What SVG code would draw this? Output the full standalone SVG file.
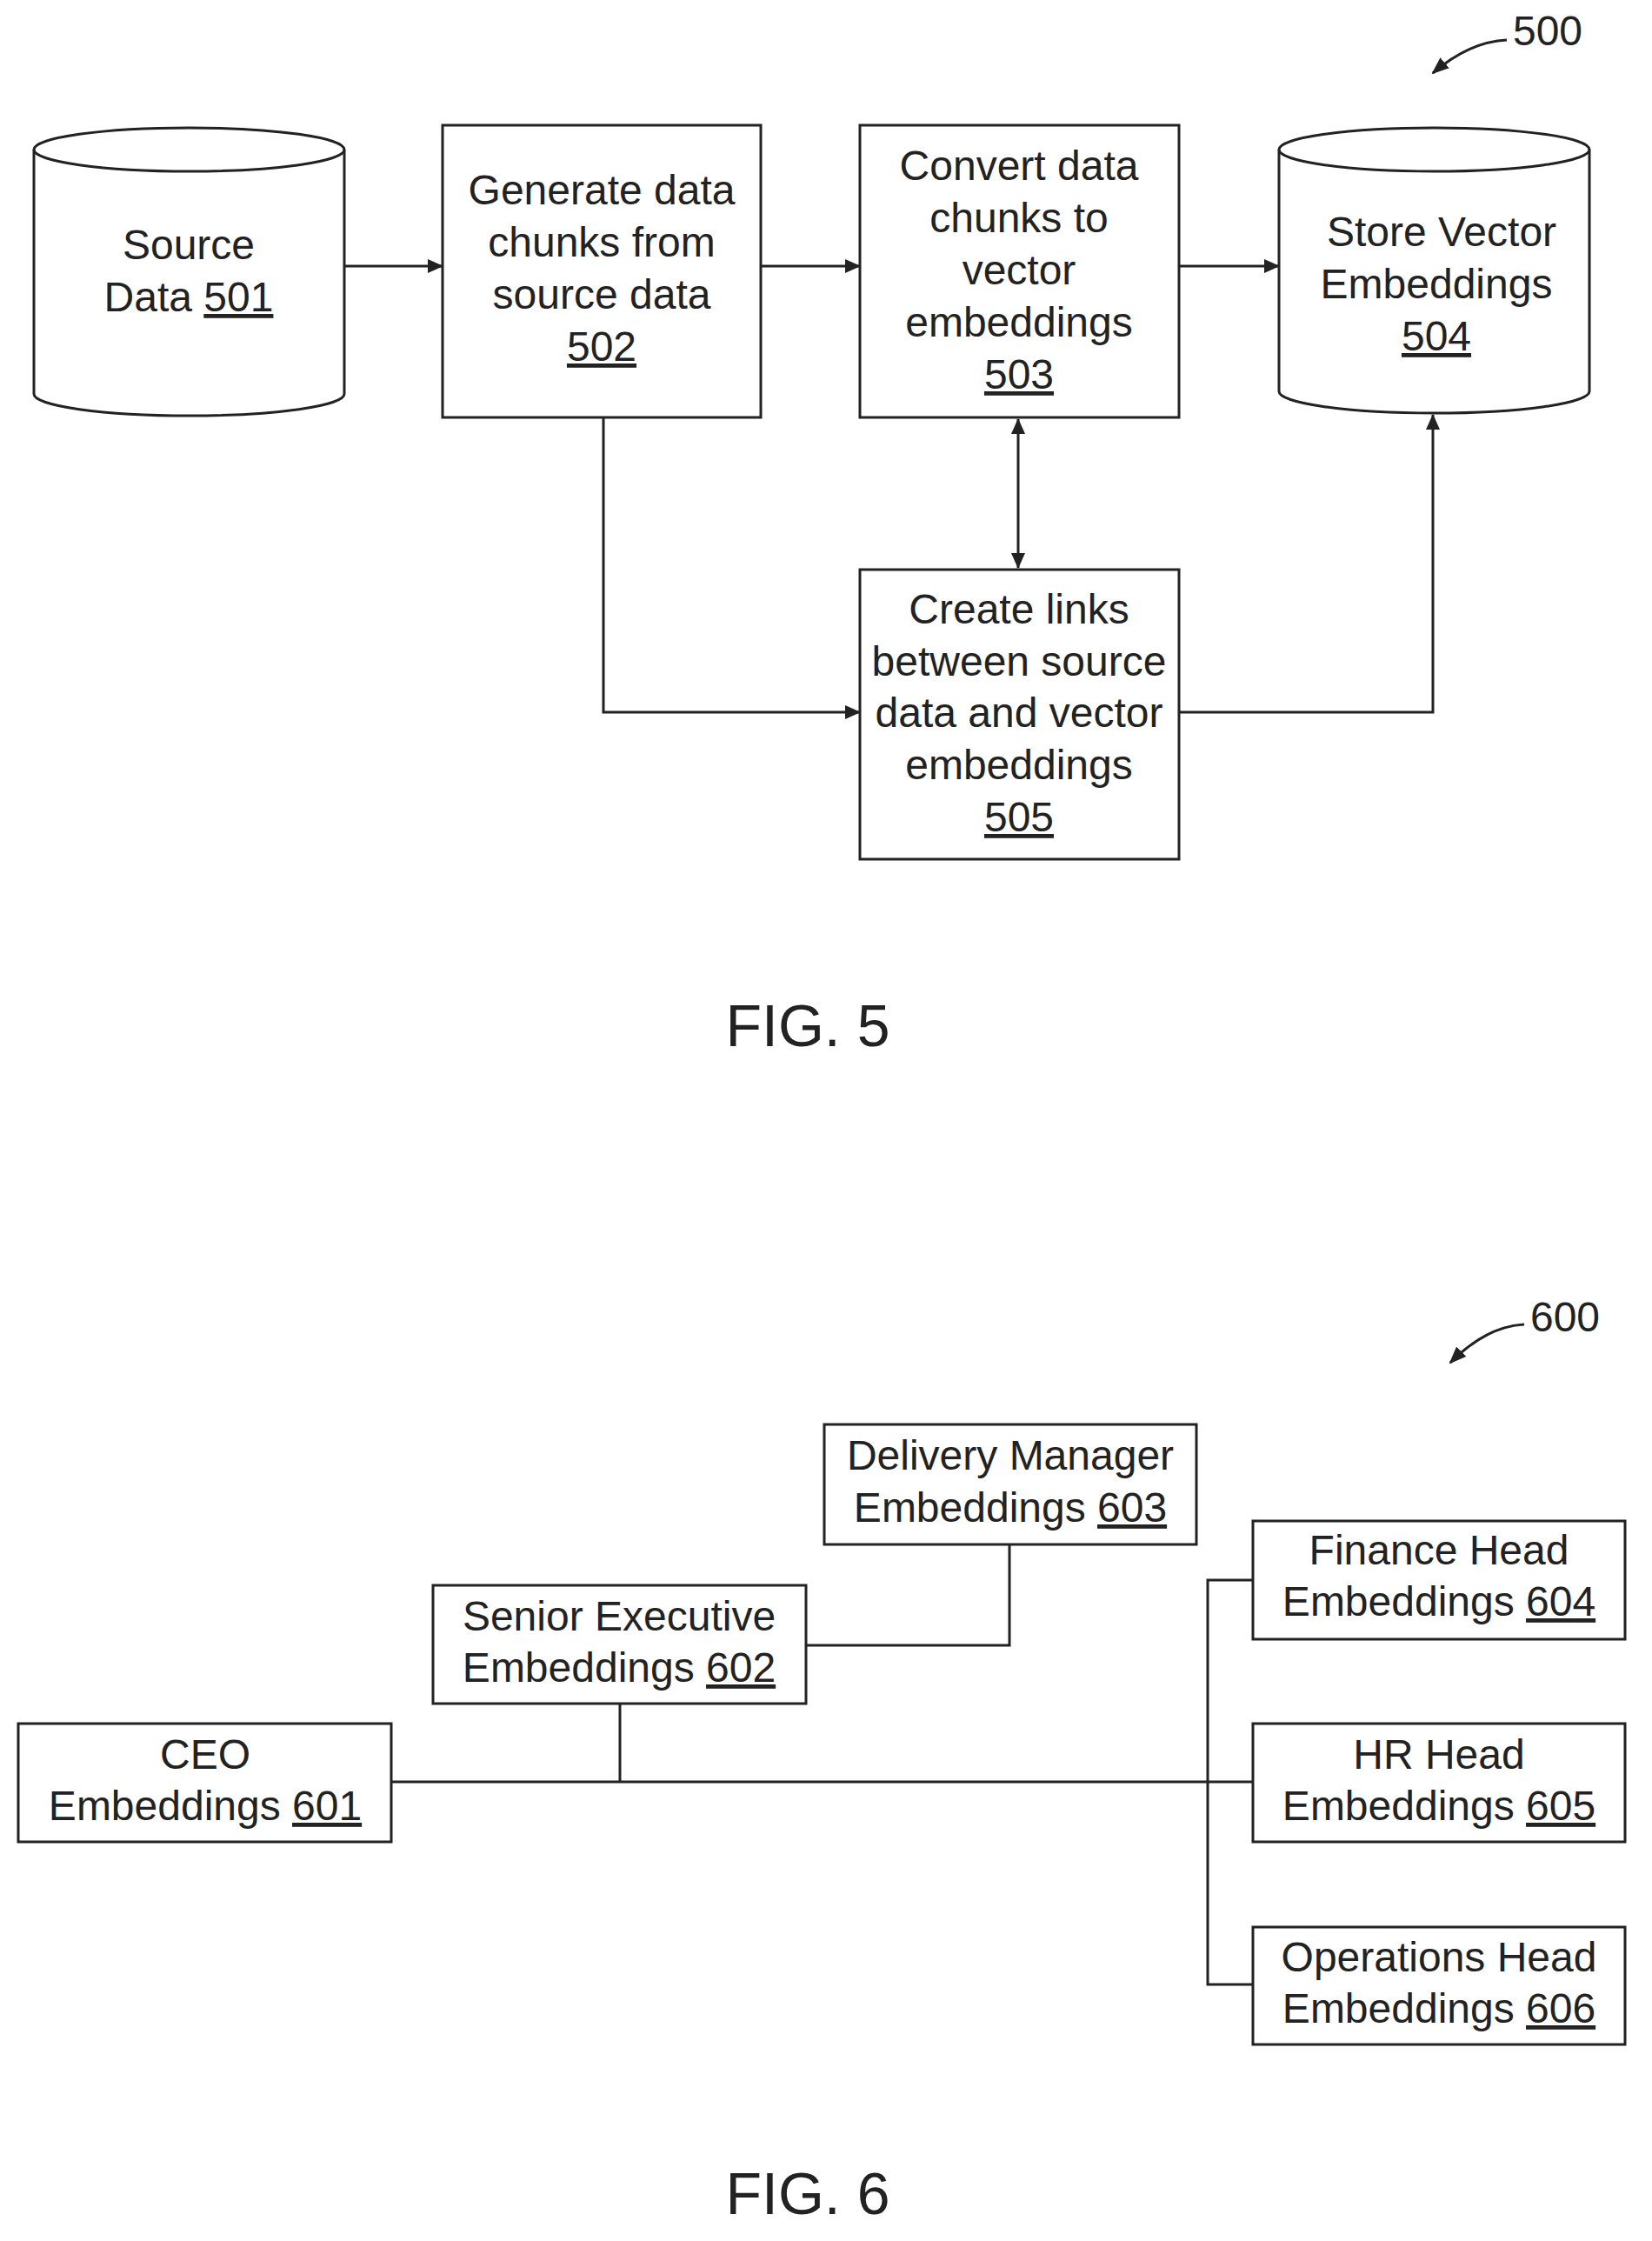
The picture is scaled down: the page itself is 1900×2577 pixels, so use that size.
<svg xmlns="http://www.w3.org/2000/svg" width="1900" height="2577" viewBox="0 0 1900 2577">
<style>
.s{fill:#fff;stroke:#222;stroke-width:3}
.c{fill:none;stroke:#222;stroke-width:3}
text{font-family:"Liberation Sans",Arial,sans-serif;font-size:48px;fill:#222;text-anchor:middle}
.u{text-decoration:underline}
.fig{font-size:68px}
</style>
<defs>
<marker id="a" markerWidth="18" markerHeight="16" refX="17" refY="8" orient="auto-start-reverse" markerUnits="userSpaceOnUse" viewBox="0 0 18 16"><path d="M0,0 L18,8 L0,16 z" fill="#222"/></marker>
<marker id="b" markerWidth="20" markerHeight="16" refX="18" refY="8" orient="auto-start-reverse" markerUnits="userSpaceOnUse" viewBox="0 0 20 16"><path d="M0,0 L20,8 L0,16 z" fill="#222"/></marker>
</defs>
<g id="n501"><path class="s" d="M39,172 A178,25 0 0 1 396,172 L396,453 A178,25 0 0 1 39,453 Z"/><path class="c" d="M39,172 A178,25 0 0 0 396,172"/>
<text x="217" y="298">Source</text><text x="217" y="358">Data <tspan class="u">501</tspan></text></g>
<g id="n502"><rect class="s" x="509" y="144" width="366" height="336"/>
<text x="692" y="235">Generate data</text><text x="692" y="295">chunks from</text><text x="692" y="355">source data</text><text x="692" y="415" class="u">502</text></g>
<g id="n503"><rect class="s" x="989" y="144" width="367" height="336"/>
<text x="1172" y="207">Convert data</text><text x="1172" y="267">chunks to</text><text x="1172" y="327">vector</text><text x="1172" y="387">embeddings</text><text x="1172" y="447" class="u">503</text></g>
<g id="n504"><path class="s" d="M1471,172 A178,25 0 0 1 1828,172 L1828,450 A178,25 0 0 1 1471,450 Z"/><path class="c" d="M1471,172 A178,25 0 0 0 1828,172"/>
<text x="1658" y="283">Store Vector</text><text x="1652" y="343">Embeddings</text><text x="1652" y="403" class="u">504</text></g>
<g id="n505"><rect class="s" x="989" y="655" width="367" height="333"/>
<text x="1172" y="717">Create links</text><text x="1172" y="777">between source</text><text x="1172" y="836">data and vector</text><text x="1172" y="896">embeddings</text><text x="1172" y="956" class="u">505</text></g>
<g id="n601"><rect class="s" x="21" y="1982" width="429" height="136"/><text x="236" y="2034">CEO</text><text x="236" y="2093">Embeddings <tspan class="u">601</tspan></text></g>
<g id="n602"><rect class="s" x="498" y="1823" width="429" height="136"/><text x="712" y="1875">Senior Executive</text><text x="712" y="1934">Embeddings <tspan class="u">602</tspan></text></g>
<g id="n603"><rect class="s" x="948" y="1638" width="428" height="138"/><text x="1162" y="1690">Delivery Manager</text><text x="1162" y="1750">Embeddings <tspan class="u">603</tspan></text></g>
<g id="n604"><rect class="s" x="1441" y="1749" width="428" height="136"/><text x="1655" y="1799">Finance Head</text><text x="1655" y="1858">Embeddings <tspan class="u">604</tspan></text></g>
<g id="n605"><rect class="s" x="1441" y="1982" width="428" height="136"/><text x="1655" y="2034">HR Head</text><text x="1655" y="2093">Embeddings <tspan class="u">605</tspan></text></g>
<g id="n606"><rect class="s" x="1441" y="2216" width="428" height="135"/><text x="1655" y="2267">Operations Head</text><text x="1655" y="2326">Embeddings <tspan class="u">606</tspan></text></g>
<g id="connectors">
<path class="c" d="M396,306 L509,306" marker-end="url(#a)"/>
<path class="c" d="M875,306 L989,306" marker-end="url(#a)"/>
<path class="c" d="M1356,306 L1471,306" marker-end="url(#a)"/>
<path class="c" d="M694,480 L694,819 L989,819" marker-end="url(#a)"/>
<path class="c" d="M1171,482 L1171,653" marker-start="url(#a)" marker-end="url(#a)"/>
<path class="c" d="M1356,819 L1648,819 L1648,477" marker-end="url(#a)"/>
<path class="c" d="M1733,46 Q1690,48 1648,84" marker-end="url(#b)"/>
<path class="c" d="M450,2049 L1441,2049"/>
<path class="c" d="M713,1959 L713,2049"/>
<path class="c" d="M927,1892 L1161,1892 L1161,1776"/>
<path class="c" d="M1441,1817 L1389,1817 L1389,2282 L1441,2282"/>
<path class="c" d="M1753,1523 Q1710,1525 1668,1567" marker-end="url(#b)"/>
</g>
<text x="1780" y="52" font-size="44">500</text>
<text x="1800" y="1531" font-size="44">600</text>
<text class="fig" x="929" y="1203">FIG. 5</text>
<text class="fig" x="929" y="2546">FIG. 6</text>
</svg>
